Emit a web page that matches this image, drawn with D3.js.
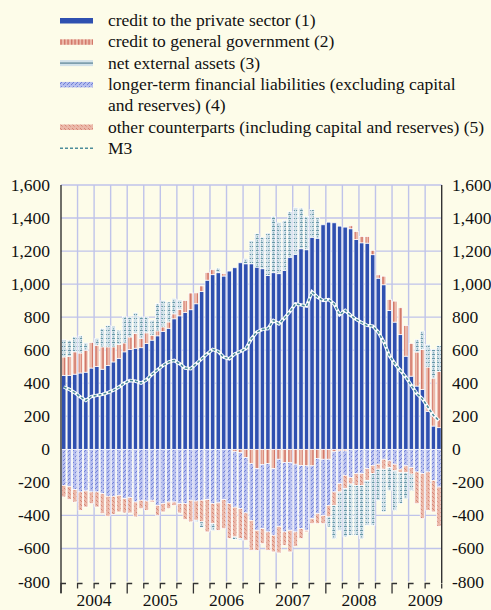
<!DOCTYPE html>
<html>
<head>
<meta charset="utf-8">
<script src="https://cdn.jsdelivr.net/npm/d3@7"></script>
<style>
  body { margin: 0; background: #fdfce9; }
  svg { display: block; }
  svg text { font-family: "Liberation Serif", "Times New Roman", "DejaVu Serif", serif; }
</style>
</head>
<body>
<svg id="chart" width="491" height="610"></svg>
<script>
// monthly data, Jan 2004 - Sep 2009 (EUR billions, annual flows)
const months = d3.timeMonth.range(new Date(2004, 0, 1), new Date(2009, 9, 1));
const years = ["2004", "2005", "2006", "2007", "2008", "2009"];
const yTicks = [-800, -600, -400, -200, 0, 200, 400, 600, 800, 1000, 1200, 1400, 1600];

const creditPrivate = [448, 448, 455, 462, 467, 492, 501, 485, 507, 529,
  551, 590, 604, 612, 615, 640, 661, 687, 713, 733,
  790, 808, 828, 845, 881, 955, 1024, 1057, 1069, 1049,
  1079, 1099, 1129, 1123, 1123, 1103, 1093, 1053, 1069, 1063,
  1083, 1163, 1180, 1214, 1208, 1284, 1278, 1359, 1375, 1371,
  1351, 1345, 1335, 1270, 1250, 1248, 1178, 1036, 996, 841,
  770, 694, 564, 443, 383, 363, 230, 141, 131];
const creditGov = [111, 115, 135, 121, 133, 155, 129, 135, 113, 91,
  83, 54, 76, 89, 57, 65, 30, 30, 28, 38,
  30, 40, 73, 101, 66, 34, 47, 30, 0, 14,
  0, -15, -20, -50, -87, -117, -91, -87, -117, -60,
  -80, -80, -90, -97, -100, -100, -55, -60, -60, -15,
  -10, -10, 18, 48, 38, 40, 26, 20, 52, 66,
  127, 163, 185, 198, 206, 242, 268, 290, 340];
const netExternal = [105, 97, 91, 105, 44, 0, 41, 111, 131, 125,
  87, 161, 121, 125, 131, 97, 91, 165, 161, 121,
  91, 56, 0, 0, -10, -35, 0, -40, 28, 0,
  0, -15, -10, 30, 141, 202, 191, 256, 341, 310,
  303, 276, 282, 246, 201, 168, 123, 0, -61, -201,
  -232, -292, -310, -302, -322, -272, -313, -189, -259, -138,
  -239, -189, -158, -100, 77, 111, 137, 174, 157];
const longerTerm = [-218, -224, -244, -258, -252, -258, -258, -268, -284, -284,
  -278, -298, -292, -319, -308, -313, -308, -339, -329, -319,
  -319, -329, -329, -308, -313, -308, -304, -329, -324, -304,
  -329, -335, -339, -335, -343, -373, -389, -413, -403, -406,
  -420, -410, -410, -383, -390, -320, -335, -340, -279, -243,
  -198, -147, -170, -147, -147, -117, -97, -90, -60, -70,
  -90, -120, -100, -110, -137, -147, -137, -188, -228];
const otherCounterparts = [-70, -80, -75, -111, -97, -71, -91, -121, -121, -109,
  -101, -87, -93, -90, -51, -56, -11, -60, -50, -40,
  -20, -56, -96, -131, -116, -131, -196, -121, -166, -176,
  -211, -180, -181, -165, -181, -121, -91, -111, -101, -161,
  -81, -131, -87, -60, -10, -30, -60, -50, -70, -81,
  -50, -81, -40, -71, -71, -71, -50, -30, -60, -40,
  -40, -20, -40, -40, -192, -272, -232, -191, -238];
const m3 = [377, 363, 343, 318, 296, 320, 327, 333, 343, 357,
  377, 401, 417, 413, 401, 421, 454, 482, 508, 528,
  538, 518, 492, 488, 518, 548, 578, 605, 592, 558,
  548, 578, 592, 609, 669, 710, 726, 730, 780, 760,
  794, 834, 881, 874, 867, 952, 921, 901, 907, 881,
  815, 841, 811, 787, 767, 750, 746, 710, 650, 569,
  518, 478, 437, 387, 337, 306, 256, 206, 175];

const legendItems = [
  { key: "private", lines: ["credit to the private sector (1)"] },
  { key: "gov", lines: ["credit to general government (2)"] },
  { key: "netExt", lines: ["net external assets (3)"] },
  { key: "ltfl", lines: ["longer-term financial liabilities (excluding capital", "and reserves) (4)"] },
  { key: "other", lines: ["other counterparts (including capital and reserves) (5)"] },
  { key: "m3", lines: ["M3"] },
];

const keys = ["private", "gov", "ltfl", "other", "netExt"];
const rows = months.map((m, i) => ({
  month: m,
  private: creditPrivate[i],
  gov: creditGov[i],
  ltfl: longerTerm[i],
  other: otherCounterparts[i],
  netExt: netExternal[i],
  m3: m3[i],
}));

const plotLeft = 61, plotRight = 441.7, plotTop = 185, plotBottom = 581.5;
const gridColor = "#bfc3ea";
const blue = "#2f50b0";
const teal = "#4d8c9a";
const fontFamily = "'Liberation Serif', 'Times New Roman', 'DejaVu Serif', serif";

const svg = d3.select("#chart").attr("font-family", fontFamily);
svg.append("rect").attr("width", 491).attr("height", 610).attr("fill", "#fdfce9");

// patterns
const defs = svg.append("defs");
function pattern(id, w, h, bg) {
  const p = defs.append("pattern").attr("id", id)
    .attr("patternUnits", "userSpaceOnUse").attr("width", w).attr("height", h);
  p.append("rect").attr("width", w).attr("height", h).attr("fill", bg);
  return p;
}
pattern("pat-gov", 3.5, 3, "#edbcac")
  .append("rect").attr("x", 1.2).attr("width", 0.9).attr("height", 3).attr("fill", "#c0463a");
const pNet = pattern("pat-net", 4, 4, "#d3e2ea");
pNet.append("rect").attr("y", 2).attr("width", 3).attr("height", 1).attr("fill", "#6798a7");
pNet.append("rect").attr("x", 1).attr("width", 1).attr("height", 1.5).attr("fill", "#8fb2bd");
pattern("pat-ltfl", 4, 4, "#b6beee")
  .append("path").attr("d", "M0,4 L2,2 M3,1 L4,0").attr("stroke", "#6071d0").attr("stroke-width", 0.8);
pattern("pat-other", 4, 4, "#ebb8a9")
  .append("path").attr("d", "M0,0 L2.5,2.5").attr("stroke", "#d0796a").attr("stroke-width", 0.8);

const fills = {
  private: blue,
  gov: "url(#pat-gov)",
  netExt: "url(#pat-net)",
  ltfl: "url(#pat-ltfl)",
  other: "url(#pat-other)",
};

// scales
const x = d3.scaleBand().domain(months).range([plotLeft, plotRight]).paddingInner(0.22).paddingOuter(0.11);
const xIdx = d3.scaleLinear().domain([0, months.length]).range([plotLeft, plotRight]);
const y = d3.scaleLinear().domain([-800, 1600]).range([plotBottom, plotTop]);

// grid
const quarters = d3.range(3, months.length, 3);
svg.append("g").selectAll("line").data(quarters).enter().append("line")
  .attr("x1", (d) => xIdx(d)).attr("x2", (d) => xIdx(d))
  .attr("y1", plotTop).attr("y2", plotBottom)
  .attr("stroke", gridColor).attr("stroke-width", 1.4);
svg.append("g").selectAll("line").data(yTicks.filter((d) => d > -800)).enter().append("line")
  .attr("x1", plotLeft).attr("x2", plotRight)
  .attr("y1", (d) => y(d)).attr("y2", (d) => y(d))
  .attr("stroke", gridColor).attr("stroke-width", 1.4);

// stacked bars
const series = d3.stack().keys(keys).offset(d3.stackOffsetDiverging)(rows);
svg.append("g").selectAll("g").data(series).enter().append("g")
  .attr("fill", (s) => fills[s.key])
  .selectAll("rect")
  .data((s) => s.filter((d) => d[1] !== d[0]))
  .enter().append("rect")
  .attr("x", (d) => x(d.data.month))
  .attr("width", x.bandwidth())
  .attr("y", (d) => y(Math.max(d[0], d[1])))
  .attr("height", (d) => Math.abs(y(d[0]) - y(d[1])))
  .attr("stroke", "#fff").attr("stroke-width", 0.7);

// M3 line
const line = d3.line()
  .x((d) => x(d.month) + x.bandwidth() / 2)
  .y((d) => y(d.m3));
svg.append("path").datum(rows).attr("d", line)
  .attr("fill", "none").attr("stroke", "#fff").attr("stroke-width", 3.4);
svg.append("path").datum(rows).attr("d", line)
  .attr("fill", "none").attr("stroke", teal).attr("stroke-width", 1.6)
  .attr("stroke-dasharray", "3,2");

// axes
const axisColor = "#333";
svg.append("line").attr("x1", plotLeft).attr("x2", plotLeft).attr("y1", plotTop).attr("y2", 593)
  .attr("stroke", axisColor).attr("stroke-width", 1.4);
svg.append("line").attr("x1", plotRight).attr("x2", plotRight).attr("y1", plotTop).attr("y2", 583)
  .attr("stroke", axisColor).attr("stroke-width", 1.4);
const allQuarters = d3.range(0, months.length + 1, 3);
svg.append("g").selectAll("path").data(allQuarters).enter().append("path")
  .attr("d", (d) => {
    const px = xIdx(d);
    const len = d % 12 === 0 ? 10 : 5;
    return d < months.length
      ? `M${px},${583.5 + len}V583.5H${px + 5}`
      : `M${px},${583.5 + len}V583.5`;
  })
  .attr("fill", "none").attr("stroke", axisColor).attr("stroke-width", 1.3);

const fmt = d3.formatLocale({ decimal: ".", thousands: ",", grouping: [3], currency: ["", ""], minus: "-" }).format(",");
svg.append("g").selectAll("text").data(yTicks).enter().append("text")
  .attr("x", 50).attr("y", (d) => y(d) + 6)
  .attr("text-anchor", "end").attr("font-size", 17.5).attr("fill", "#111")
  .text(fmt);
svg.append("g").selectAll("text").data(yTicks).enter().append("text")
  .attr("x", 452).attr("y", (d) => y(d) + 6)
  .attr("font-size", 17.5).attr("fill", "#111")
  .text(fmt);
svg.append("g").selectAll("text").data(years).enter().append("text")
  .attr("x", (d, i) => xIdx(i * 12 + 6)).attr("y", 606)
  .attr("text-anchor", "middle").attr("font-size", 17.5).attr("fill", "#111")
  .text((d) => d);

// legend
const legend = svg.append("g");
let row = 0;
for (const item of legendItems) {
  const sy = 26 + 21.3 * row - 5.5;
  if (item.key === "m3") {
    legend.append("line").attr("x1", 60).attr("x2", 93).attr("y1", sy).attr("y2", sy)
      .attr("stroke", teal).attr("stroke-width", 1.5).attr("stroke-dasharray", "3,2");
  } else if (item.key === "netExt") {
    legend.append("rect").attr("x", 60).attr("y", sy - 3).attr("width", 33).attr("height", 6)
      .attr("fill", "#d3e2ea");
    legend.append("line").attr("x1", 60).attr("x2", 93).attr("y1", sy).attr("y2", sy)
      .attr("stroke", "#7f9fae").attr("stroke-width", 1.6);
  } else {
    legend.append("rect").attr("x", 60).attr("y", sy - 2.5).attr("width", 33).attr("height", 5.5)
      .attr("fill", fills[item.key]);
  }
  for (const txt of item.lines) {
    legend.append("text").attr("x", 108).attr("y", 26 + 21.3 * row)
      .attr("font-size", 17.5).attr("fill", "#111").text(txt);
    row++;
  }
}
</script>
</body>
</html>
